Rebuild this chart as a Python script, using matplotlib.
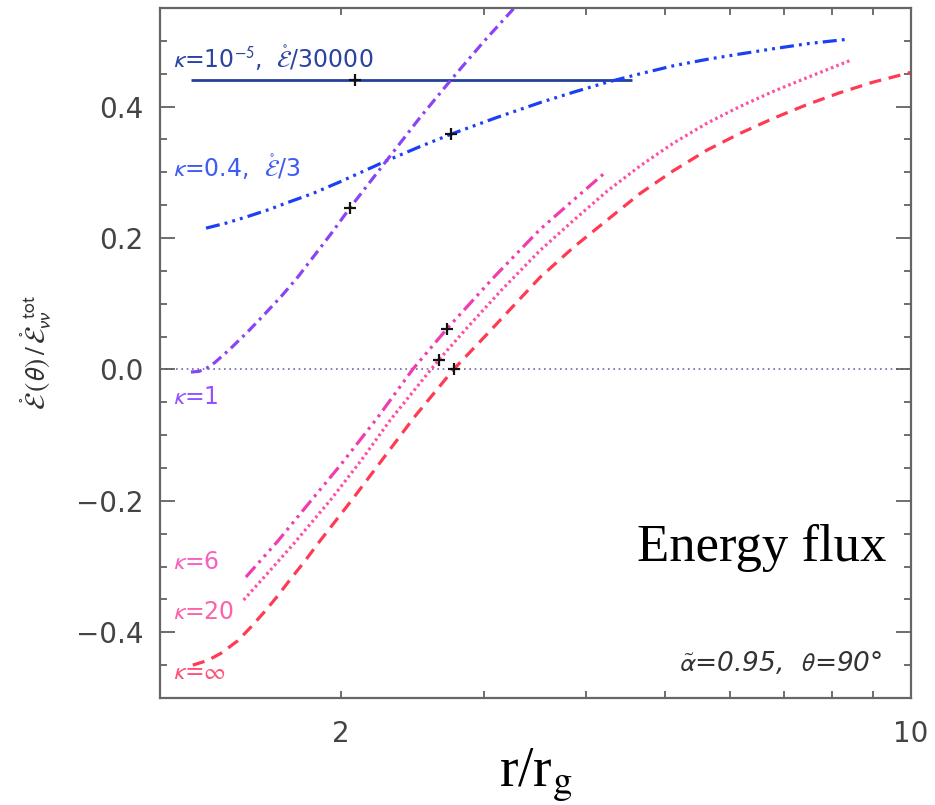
import matplotlib
matplotlib.use("Agg")
import matplotlib.pyplot as plt
from matplotlib.ticker import FixedLocator, FixedFormatter, MultipleLocator, NullFormatter, FuncFormatter

plt.rcParams['font.family'] = ['DejaVu Sans']
plt.rcParams['mathtext.fontset'] = 'stixsans'

# energy flux profiles, r/r_g vs E(theta)/E_tot
r_k1e5 = [1.31, 4.55]
E_k1e5 = [0.44, 0.44]

r_k04 = [1.367, 1.45, 1.54, 1.63, 1.73, 1.85, 2.00, 2.28, 2.50, 2.73, 3.10,
         3.51, 3.86, 4.24, 4.66, 5.11, 5.63, 6.17, 6.78, 7.50, 8.30]
E_k04 = [0.215, 0.223, 0.233, 0.243, 0.255, 0.268, 0.286, 0.318, 0.339, 0.358,
         0.383, 0.406, 0.422, 0.437, 0.450, 0.462, 0.472, 0.480, 0.488, 0.496,
         0.502]

r_k1 = [1.31, 1.34, 1.37, 1.40, 1.46, 1.54, 1.61, 1.69, 1.77, 1.85, 1.95,
        2.05, 2.28, 2.50, 2.74, 3.00, 3.28, 3.50]
E_k1 = [-0.004, -0.003, 0.002, 0.010, 0.030, 0.058, 0.083, 0.111, 0.140, 0.171,
        0.208, 0.245, 0.319, 0.383, 0.443, 0.500, 0.553, 0.592]

r_k6 = [1.53, 1.675, 1.838, 2.00, 2.22, 2.45, 2.70, 3.08, 3.51, 3.86, 4.24]
E_k6 = [-0.316, -0.261, -0.200, -0.145, -0.073, 0.0, 0.062, 0.140, 0.213,
        0.258, 0.302]

r_k20 = [1.52, 1.63, 1.752, 1.945, 2.12, 2.30, 2.58, 2.64, 2.86, 3.15, 3.51,
         3.86, 4.24, 4.66, 5.11, 5.63, 6.17, 6.78, 7.46, 8.42]
E_k20 = [-0.351, -0.309, -0.265, -0.198, -0.138, -0.077, 0.0, 0.015, 0.064,
         0.121, 0.181, 0.227, 0.271, 0.310, 0.344, 0.375, 0.400, 0.423, 0.444,
         0.470]

r_kinf = [1.317, 1.373, 1.426, 1.495, 1.552, 1.612, 1.673, 1.738, 1.804, 1.875,
          2.06, 2.25, 2.46, 2.75, 3.03, 3.51, 3.86, 4.24, 4.66, 5.11, 5.63,
          6.17, 6.78, 7.46, 8.18, 8.98, 10.0]
E_kinf = [-0.450, -0.443, -0.432, -0.413, -0.392, -0.369, -0.345, -0.318,
          -0.293, -0.265, -0.200, -0.137, -0.073, 0.0, 0.055, 0.140, 0.186,
          0.227, 0.268, 0.302, 0.334, 0.359, 0.382, 0.403, 0.421, 0.437, 0.452]

# '+' markers on each curve
mark_r = [2.08, 2.73, 2.05, 2.70, 2.64, 2.75]
mark_E = [0.44, 0.358, 0.245, 0.062, 0.015, 0.0]

fig = plt.figure(figsize=(9.35, 8.05), dpi=100)
ax = fig.add_axes([0.171, 0.133, 0.803, 0.857])
ax.set_xscale('log')
ax.set_xlim(1.2, 10)
ax.set_ylim(-0.5, 0.55)

# zero reference
ax.axhline(0.0, color='#6a6ab4', lw=1.2, ls=(0, (1, 2.2)), zorder=1)

lw = 2.3
dash3dot = (4.4, 1.6, 0.9, 1.6, 0.9, 1.6, 0.9, 1.6)
ax.plot(r_k1e5, E_k1e5, color='#22409c', lw=2.0, solid_capstyle='butt')
ax.plot(r_k04, E_k04, color='#1a40f5', lw=lw, dashes=dash3dot)
ax.plot(r_k1, E_k1, color='#8a44f5', lw=lw, dashes=(3.4, 1.6, 0.9, 1.6))
ax.plot(r_k6, E_k6, color='#f03cb0', lw=lw, dashes=dash3dot)
ax.plot(r_k20, E_k20, color='#ff4fa2', lw=lw, dashes=(0.8, 1.0))
ax.plot(r_kinf, E_kinf, color='#ff3a52', lw=lw, dashes=(3.8, 2.4))

ax.plot(mark_r, mark_E, ls='none', marker='+', ms=9, mew=1.6, color='#111111',
        zorder=5)

# curve labels
lab_fs = 17
ax.text(0.017, 0.928, r'$\kappa$=10$^{-5}$,  $\mathring{\mathcal{E}}$/30000',
        transform=ax.transAxes, color='#2a44a0', fontsize=lab_fs, va='center')
ax.text(0.017, 0.770, r'$\kappa$=0.4,  $\mathring{\mathcal{E}}$/3',
        transform=ax.transAxes, color='#3d5cf5', fontsize=lab_fs, va='center')
ax.text(0.017, 0.436, r'$\kappa$=1', transform=ax.transAxes, color='#9650ff',
        fontsize=lab_fs, va='center')
ax.text(0.017, 0.197, r'$\kappa$=6', transform=ax.transAxes, color='#f860c0',
        fontsize=lab_fs, va='center')
ax.text(0.017, 0.125, r'$\kappa$=20', transform=ax.transAxes, color='#fc62a8',
        fontsize=lab_fs, va='center')
ax.text(0.017, 0.038, r'$\kappa$=$\infty$', transform=ax.transAxes,
        color='#ff5278', fontsize=lab_fs, va='center')

ax.text(0.968, 0.218, 'Energy flux', transform=ax.transAxes, ha='right',
        va='center', fontsize=38, family='Liberation Serif', color='black')
ax.text(0.963, 0.050, r'$\tilde{\alpha}$=0.95,  $\theta$=90°',
        transform=ax.transAxes, ha='right', va='center', fontsize=19,
        style='italic', color='#333333')

# axes labels
ax.set_xlabel(r'r/r$_\mathrm{g}$', family='Liberation Serif', math_fontfamily='stix',
              fontsize=40, color='black', va='baseline')
ax.xaxis.set_label_coords(0.5, -0.128)
ax.set_ylabel(r'$\mathring{\mathcal{E}}\,(\theta)\,/\,\mathring{\mathcal{E}}_{\nu\nu}^{\ \ \mathrm{tot}}$',
              fontsize=20, color='#333333', labelpad=16)

# ticks
ax.xaxis.set_major_locator(FixedLocator([2, 10]))
ax.xaxis.set_minor_locator(FixedLocator([3, 4, 5, 6, 7, 8, 9]))
ax.xaxis.set_major_formatter(FixedFormatter(['2', '10']))
ax.xaxis.set_minor_formatter(NullFormatter())
ax.yaxis.set_major_locator(MultipleLocator(0.2))
ax.yaxis.set_minor_locator(MultipleLocator(0.05))
ax.yaxis.set_major_formatter(FuncFormatter(
    lambda v, p: ('%.1f' % v).replace('-', '\u2212')))

ax.tick_params(axis='both', which='both', direction='in', top=True, right=True,
               colors='#555555', labelcolor='#444444', width=1.2)
ax.tick_params(axis='y', which='major', length=11, labelsize=20, pad=12)
ax.tick_params(axis='y', which='minor', length=5)
ax.tick_params(axis='x', which='both', length=5, labelsize=20, pad=16)

for s in ax.spines.values():
    s.set_color('#666666')
    s.set_linewidth(1.6)

fig.savefig('out.png', dpi=100)
